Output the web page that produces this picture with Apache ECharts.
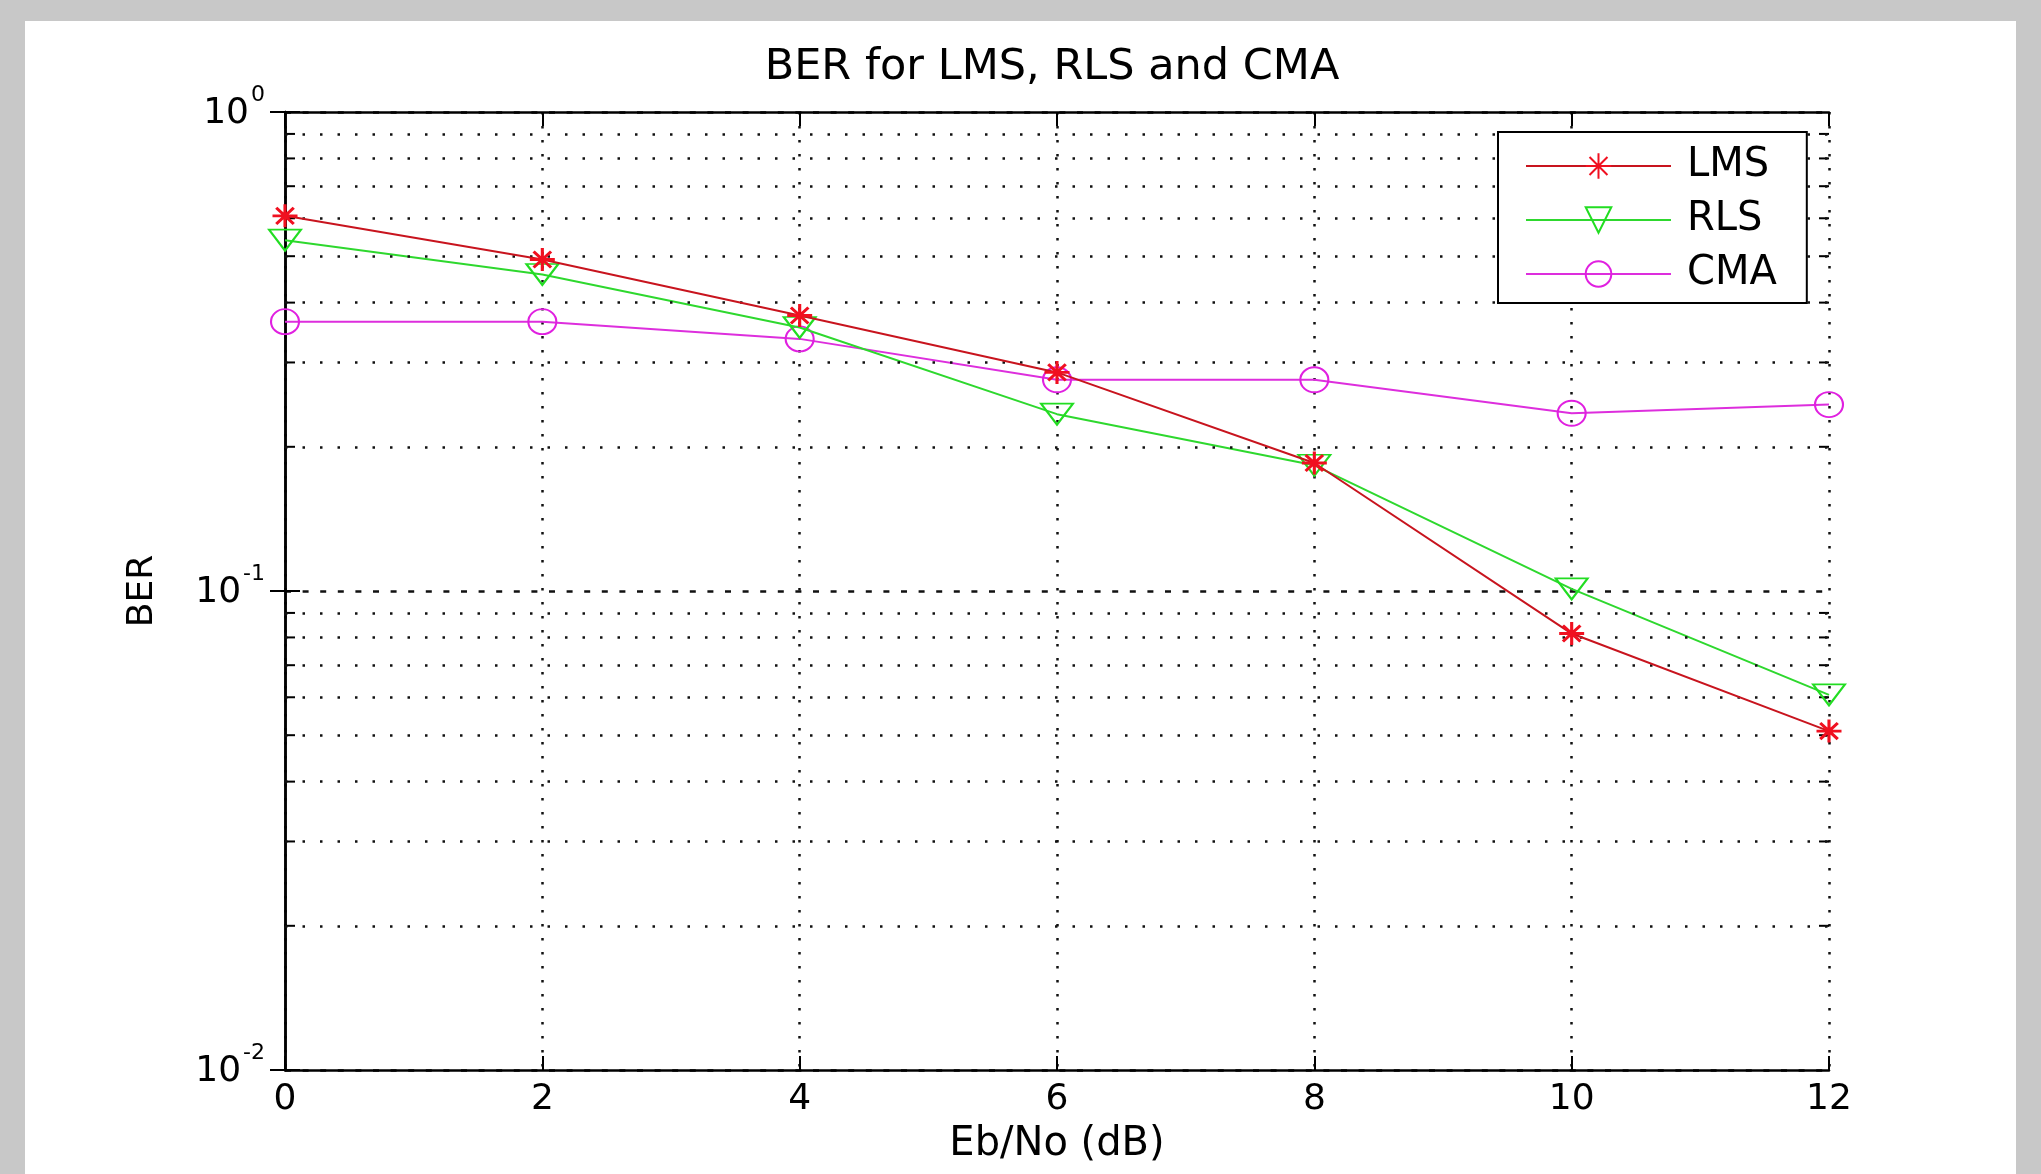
<!DOCTYPE html>
<html>
<head>
<meta charset="utf-8">
<title>BER for LMS, RLS and CMA</title>
<script src="https://cdn.jsdelivr.net/npm/echarts@6/dist/echarts.min.js"></script>
<style>
  html, body { margin: 0; padding: 0; background: #c8c8c8; }
  #main { width: 2041px; height: 1174px; }
</style>
</head>
<body>
<div id="main"></div>
<script>
// Eb/No in dB
var ebno = [0, 2, 4, 6, 8, 10, 12];
// BER values
var berLMS = [0.607, 0.492, 0.376, 0.286, 0.185, 0.0815, 0.051];
var berRLS = [0.540, 0.458, 0.355, 0.234, 0.183, 0.101, 0.0607];
var berCMA = [0.365, 0.365, 0.336, 0.276, 0.276, 0.235, 0.245];
// log axis minor positions (dotted grid + small ticks)
var yMinor = [0.02, 0.03, 0.04, 0.05, 0.06, 0.07, 0.08, 0.09,
              0.2, 0.3, 0.4, 0.5, 0.6, 0.7, 0.8, 0.9];
var xMin = 0, xMax = 12, xStep = 2;
var yMin = 0.01, yMax = 1;

var font = 'DejaVu Sans';

function pairs(ys) {
  return ebno.map(function (x, i) { return [x, ys[i]]; });
}

var chart = echarts.init(document.getElementById('main'));

chart.setOption({
  animation: false,
  backgroundColor: '#c8c8c8',
  graphic: [{
    type: 'rect',
    z: -100,
    silent: true,
    shape: { x: 25, y: 21, width: 1991, height: 1153 },
    style: { fill: '#ffffff' }
  }],
  title: {
    text: 'BER for LMS, RLS and CMA',
    left: 1052,
    top: 46,
    padding: 0,
    textAlign: 'center',
    textStyle: { fontFamily: font, fontSize: 43, fontWeight: 'normal', color: '#000' }
  },
  legend: {
    data: ['LMS', 'RLS', 'CMA'],
    orient: 'vertical',
    z: 20,
    left: 1498,
    top: 132,
    padding: [14, 30, 9, 27],
    itemWidth: 145,
    itemHeight: 32,
    itemGap: 14,
    backgroundColor: '#fff',
    borderColor: '#000',
    borderWidth: 2,
    borderRadius: 0,
    textStyle: { fontFamily: font, fontSize: 40, color: '#000', lineHeight: 38, padding: [0, 0, 0, 11] }
  },
  grid: { left: 285, top: 112, width: 1544, height: 958, containLabel: false },
  xAxis: [{
    type: 'value',
    min: xMin, max: xMax, interval: xStep,
    name: 'Eb/No (dB)',
    nameLocation: 'middle',
    nameGap: 55,
    nameTextStyle: { fontFamily: font, fontSize: 40, color: '#000' },
    axisLine: { lineStyle: { color: '#000', width: 2.5 } },
    axisTick: { inside: true, length: 14, lineStyle: { color: '#000', width: 2 } },
    axisLabel: { fontFamily: font, fontSize: 36, color: '#000', margin: 12 },
    splitLine: { show: true, lineStyle: { color: '#111', width: 2.5, type: [2.5, 11.5] } }
  }, {
    type: 'value',
    position: 'top',
    min: xMin, max: xMax, interval: xStep,
    axisLine: { lineStyle: { color: '#000', width: 2.5 } },
    axisTick: { inside: true, length: 14, lineStyle: { color: '#000', width: 2 } },
    axisLabel: { show: false },
    splitLine: { show: false }
  }],
  yAxis: [{
    type: 'log',
    logBase: 10,
    min: yMin, max: yMax,
    name: 'BER',
    nameLocation: 'middle',
    nameGap: 124,
    nameTextStyle: { fontFamily: font, fontSize: 36, color: '#000' },
    axisLine: { lineStyle: { color: '#000', width: 2.5 } },
    axisTick: { inside: true, length: 15, lineStyle: { color: '#000', width: 2 } },
    axisLabel: {
      margin: 20,
      formatter: function (v) {
        var e = Math.round(Math.log10(v));
        return '{b|10}{s|' + e + '}';
      },
      rich: {
        b: { fontFamily: font, fontSize: 36, color: '#000', lineHeight: 40, verticalAlign: 'bottom' },
        s: { fontFamily: font, fontSize: 22, color: '#000', lineHeight: 22, verticalAlign: 'bottom', padding: [0, 0, 26, 2] }
      }
    },
    splitLine: { show: true, lineStyle: { color: '#111', width: 2.5, type: [6, 11.6] } }
  }, {
    type: 'log',
    logBase: 10,
    position: 'right',
    min: yMin, max: yMax,
    axisLine: { lineStyle: { color: '#000', width: 2.5 } },
    axisTick: { inside: true, length: 15, lineStyle: { color: '#000', width: 2 } },
    axisLabel: { show: false },
    splitLine: { show: false }
  }],
  series: [
    {
      // dotted minor grid lines
      name: 'grid',
      type: 'line',
      data: [],
      z: 1,
      silent: true,
      markLine: {
        silent: true,
        symbol: 'none',
        label: { show: false },
        lineStyle: { color: '#111', width: 2.5, type: [2.5, 15] },
        data: yMinor.map(function (v) { return { yAxis: v }; })
      }
    },
    {
      // minor ticks on left and right edge
      name: 'minorTicks',
      type: 'custom',
      silent: true,
      z: 3,
      data: yMinor.map(function (v) { return [xMin, v]; }),
      renderItem: function (params, api) {
        var v = api.value(1);
        var l = api.coord([xMin, v]);
        var r = api.coord([xMax, v]);
        var st = { stroke: '#000', lineWidth: 2 };
        return {
          type: 'group',
          children: [
            { type: 'line', shape: { x1: l[0], y1: l[1], x2: l[0] + 10, y2: l[1] }, style: st },
            { type: 'line', shape: { x1: r[0] - 10, y1: r[1], x2: r[0], y2: r[1] }, style: st }
          ]
        };
      }
    },
    {
      name: 'LMS',
      type: 'line',
      z: 5,
      data: pairs(berLMS),
      symbol: 'path://M0,5 L10,5 M5,0 L5,10 M1.5,1.5 L8.5,8.5 M8.5,1.5 L1.5,8.5',
      symbolSize: [25, 23],
      lineStyle: { color: '#c8141e', width: 2 },
      itemStyle: { color: 'transparent', borderColor: '#f01020', borderWidth: 3 }
    },
    {
      name: 'RLS',
      type: 'line',
      z: 4,
      data: pairs(berRLS),
      symbol: 'path://M0,0 L20,0 L10,13 Z',
      symbolSize: [32, 21],
      lineStyle: { color: '#2ed82e', width: 2 },
      itemStyle: { color: 'transparent', borderColor: '#22dd22', borderWidth: 2 }
    },
    {
      name: 'CMA',
      type: 'line',
      z: 3,
      data: pairs(berCMA),
      symbol: 'circle',
      symbolSize: [28, 25],
      lineStyle: { color: '#dd2edd', width: 2 },
      itemStyle: { color: 'transparent', borderColor: '#e020e0', borderWidth: 2 }
    }
  ]
});
</script>
</body>
</html>
